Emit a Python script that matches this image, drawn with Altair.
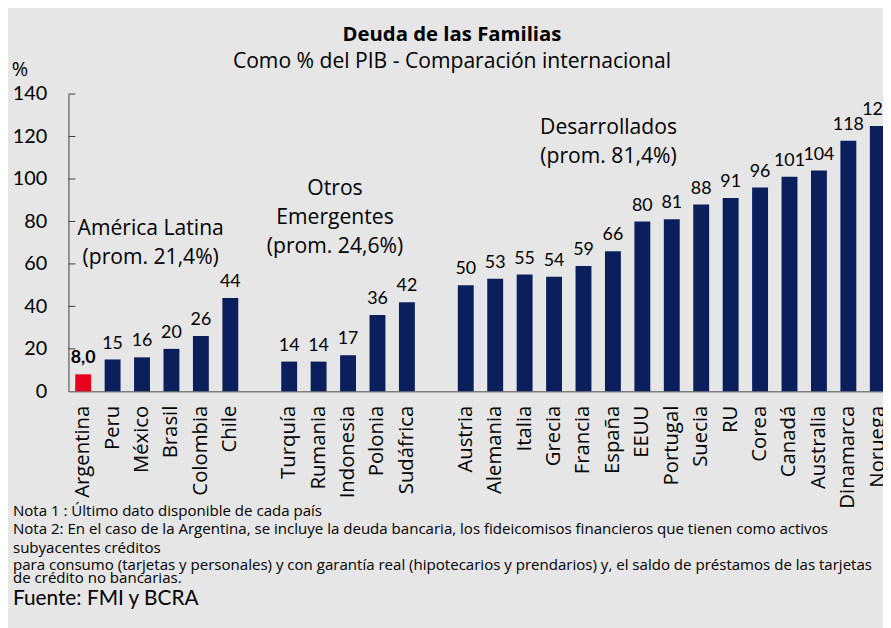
import altair as alt
import pandas as pd

# ---- data ----
countries = ["Argentina", "Peru", "México", "Brasil", "Colombia", "Chile",
             "Turquía", "Rumania", "Indonesia", "Polonia", "Sudáfrica",
             "Austria", "Alemania", "Italia", "Grecia", "Francia", "España", "EEUU",
             "Portugal", "Suecia", "RU", "Corea", "Canadá", "Australia", "Dinamarca", "Noruega"]
values = [8.0, 15, 16, 20, 26, 44,
          14, 14, 17, 36, 42,
          50, 53, 55, 54, 59, 66, 80,
          81, 88, 91, 96, 101, 104, 118, 125]
value_labels = ["8,0", "15", "16", "20", "26", "44",
                "14", "14", "17", "36", "42",
                "50", "53", "55", "54", "59", "66", "80",
                "81", "88", "91", "96", "101", "104", "118", "125"]
slot_order = (countries[:6] + ["gap1"] + countries[6:11] + ["gap2"] + countries[11:])
y_ticks = [0, 20, 40, 60, 80, 100, 120, 140]

df = pd.DataFrame({
    "pais": countries,
    "valor": values,
    "etiqueta": value_labels,
    "tipo": ["Argentina" if c == "Argentina" else "Otros" for c in countries],
})
ticks_df = pd.DataFrame({"valor": y_ticks[1:]})

NAVY = "#0b1f5c"
RED = "#e8001c"
NUM_FONT = "Lato"
TXT_FONT = "Open Sans"

x_enc = alt.X(
    "pais:N",
    sort=slot_order,
    scale=alt.Scale(domain=slot_order, range=[0, 831.6], paddingInner=0.46, paddingOuter=0.23),
    axis=alt.Axis(
        title=None, ticks=False, labelAngle=270, labelFont=TXT_FONT, labelFontSize=20.5,
        labelColor="black", labelPadding=14, domainColor="#7f7f7f", domainWidth=1.5,
        labelExpr="indexof(datum.value, 'gap') == 0 ? '' : datum.label",
        labelOverlap=False, labelBound=False, labelLimit=300,
    ),
)
y_scale = alt.Scale(domain=[0, 140], nice=False, zero=True)
y_axis = alt.Axis(
    title=None, values=y_ticks, ticks=False, grid=False, labelFont=NUM_FONT,
    labelFontSize=20, labelColor="black", labelPadding=22, domainColor="#404040",
)

base = alt.Chart(df)

bars = base.mark_bar().encode(
    x=x_enc,
    y=alt.Y("valor:Q", scale=y_scale, axis=y_axis),
    color=alt.Color("tipo:N", scale=alt.Scale(domain=["Argentina", "Otros"], range=[RED, NAVY]), legend=None),
)

labels_other = base.transform_filter(alt.datum.pais != "Argentina").mark_text(
    baseline="bottom", dy=-7, font=NUM_FONT, fontSize=18, color="black"
).encode(x=alt.X("pais:N", sort=slot_order), y=alt.Y("valor:Q"), text="etiqueta:N")

labels_arg = base.transform_filter(alt.datum.pais == "Argentina").mark_text(
    baseline="bottom", dy=-7, font=NUM_FONT, fontSize=18, fontWeight="bold", color="black"
).encode(x=alt.X("pais:N", sort=slot_order), y=alt.Y("valor:Q"), text="etiqueta:N")

tick_rules = alt.Chart(ticks_df).mark_rule(color="#404040", strokeWidth=1).encode(
    y=alt.Y("valor:Q"), x=alt.value(0), x2=alt.value(7)
)

# ---- annotations ----
annot_text = ["Deuda de las Familias", "Como % del PIB - Comparación internacional", "%",
              "América Latina", "(prom. 21,4%)",
              "Otros", "Emergentes", "(prom. 24,6%)",
              "Desarrollados", "(prom. 81,4%)"]
annot_x = [387, 387, -49, 83, 83, 269, 269, 269, 545, 545]
annot_y = [-60, -32, -24, 136, 166, 96, 125, 154, 34, 64]
annot_w = ["bold", "normal", "normal", "normal", "normal", "normal", "normal", "normal", "normal", "normal"]
annot_s = [20.5, 21.3, 20, 21.3, 21.3, 21.3, 21.3, 21.3, 21.3, 21.3]

annots = []
for t, ax, ay, w, s in zip(annot_text, annot_x, annot_y, annot_w, annot_s):
    annots.append(
        alt.Chart(pd.DataFrame({"t": [t]})).mark_text(
            font=TXT_FONT, fontSize=s, fontWeight=w, color="black", align="center", baseline="middle"
        ).encode(text="t:N", x=alt.value(ax), y=alt.value(ay))
    )

notes = ["Nota 1 : Último dato disponible de cada país",
         "Nota 2: En el caso de la Argentina, se incluye la deuda bancaria, los fideicomisos financieros que tienen como activos",
         "subyacentes créditos",
         "para consumo (tarjetas y personales) y con garantía real (hipotecarios y prendarios) y, el saldo de préstamos de las tarjetas",
         "de crédito no bancarias."]
notes_y = [421, 439, 458, 475, 488]
for t, ny in zip(notes, notes_y):
    annots.append(
        alt.Chart(pd.DataFrame({"t": [t]})).mark_text(
            font=TXT_FONT, fontSize=15.2, color="black", align="left", baseline="middle"
        ).encode(text="t:N", x=alt.value(-56), y=alt.value(ny))
    )
annots.append(
    alt.Chart(pd.DataFrame({"t": ["Fuente: FMI y BCRA"]})).mark_text(
        font=NUM_FONT, fontSize=21, color="black", align="left", baseline="middle"
    ).encode(text="t:N", x=alt.value(-56), y=alt.value(510))
)

chart = alt.layer(bars, labels_other, labels_arg, tick_rules, *annots).properties(
    width=822,
    height=300,
    autosize=alt.AutoSizeParams(type="none"),
    padding={"left": 61, "top": 84, "right": 0, "bottom": 236},
    background="#e6e6e6",
).configure_view(stroke=None)

chart.save("out.html", embed_options={"renderer": "svg", "actions": False})
